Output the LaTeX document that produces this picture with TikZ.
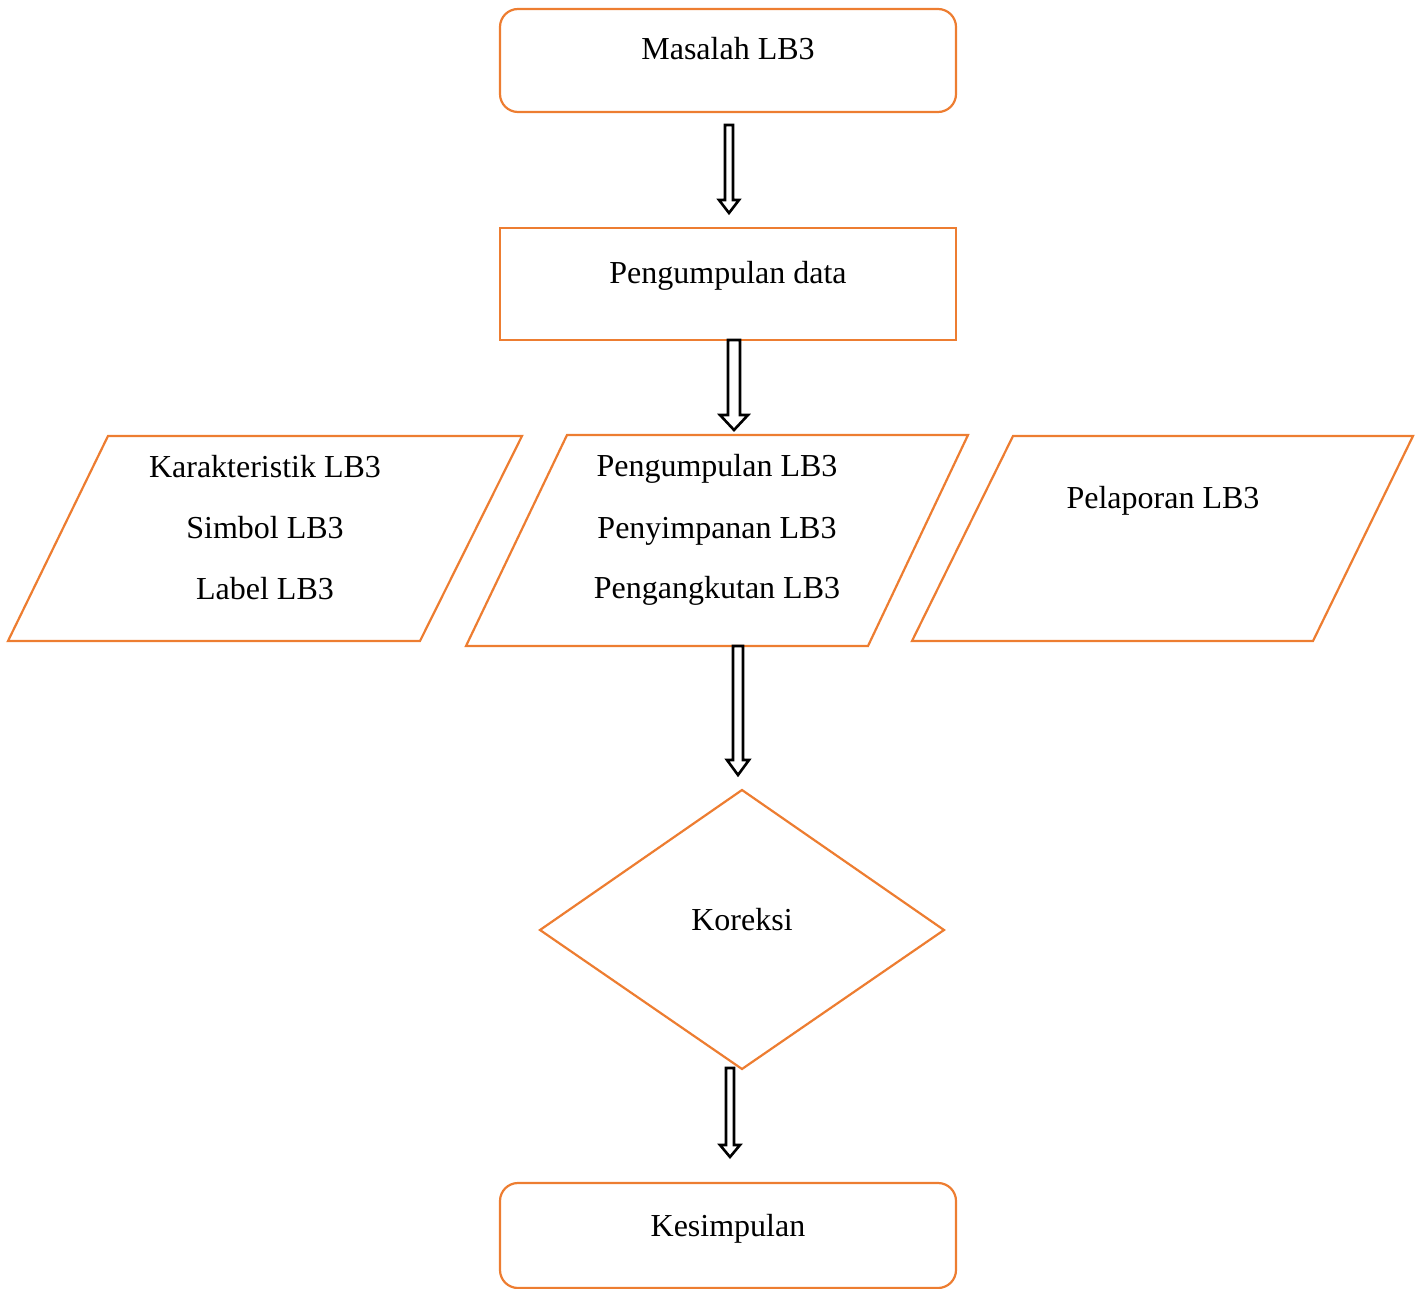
\documentclass[tikz,border=0pt]{standalone}
\usepackage{fontspec}
\setmainfont{Liberation Serif}
\begin{document}
\begin{tikzpicture}[x=0.5pt,y=-0.5pt,
  box/.style={draw=boxorange,line width=1.1pt},
  lbl/.style={anchor=base,inner sep=0pt,font=\fontsize{16}{19}\selectfont},
  barrow/.style={draw=black,line width=1.3pt,fill=white,line join=miter}]
\definecolor{boxorange}{HTML}{ED7D31}
\useasboundingbox (0,0) rectangle (1420,1289);
% shapes
\draw[box,rounded corners=9pt] (500,9) rectangle (956,112);
\draw[box] (500,228) rectangle (956,340);
\draw[box] (108,436) -- (522,436) -- (420,641) -- (8,641) -- cycle;
\draw[box] (567,435) -- (968,435) -- (868,646) -- (466,646) -- cycle;
\draw[box] (1013,436) -- (1413,436) -- (1313,641) -- (912,641) -- cycle;
\draw[box] (540,930) -- (742,790) -- (944,930) -- (742,1069) -- cycle;
\draw[box,rounded corners=9pt] (500,1183) rectangle (956,1288);
% texts
\node[lbl] (masalah) at (728,60) {Masalah LB3};
\node[lbl] (data) at (728,284) {Pengumpulan data};
\node[lbl] (kar) at (265,477) {Karakteristik LB3};
\node[lbl] (sim) at (265,538) {Simbol LB3};
\node[lbl] (lab) at (265,599) {Label LB3};
\node[lbl] (peng) at (717,476) {Pengumpulan LB3};
\node[lbl] (peny) at (717,538) {Penyimpanan LB3};
\node[lbl] (pang) at (717,598) {Pengangkutan LB3};
\node[lbl] (pel) at (1163,508) {Pelaporan LB3};
\node[lbl] (kor) at (742,930) {Koreksi};
\node[lbl] (kes) at (728,1236) {Kesimpulan};
% block arrows
\coordinate (a1s) at (729,125); \coordinate (a1e) at (729,213);
\coordinate (a2s) at (734,340); \coordinate (a2e) at (734,430);
\coordinate (a3s) at (738,646); \coordinate (a3e) at (738,775);
\coordinate (a4s) at (730,1068); \coordinate (a4e) at (730,1157);
\newcommand\blockarr[5]{% start, end, half shaft, half head, head length
  \draw[barrow] ([xshift=-#3*0.5pt]#1) -- ([xshift=#3*0.5pt]#1)
    -- ([xshift=#3*0.5pt,yshift=#5*0.5pt]#2) -- ([xshift=#4*0.5pt,yshift=#5*0.5pt]#2)
    -- (#2) -- ([xshift=-#4*0.5pt,yshift=#5*0.5pt]#2)
    -- ([xshift=-#3*0.5pt,yshift=#5*0.5pt]#2) -- cycle;}
\blockarr{a1s}{a1e}{4}{10}{13}
\blockarr{a2s}{a2e}{6}{14}{15}
\blockarr{a3s}{a3e}{5}{11}{15}
\blockarr{a4s}{a4e}{4}{10}{12}
\end{tikzpicture}
\end{document}
